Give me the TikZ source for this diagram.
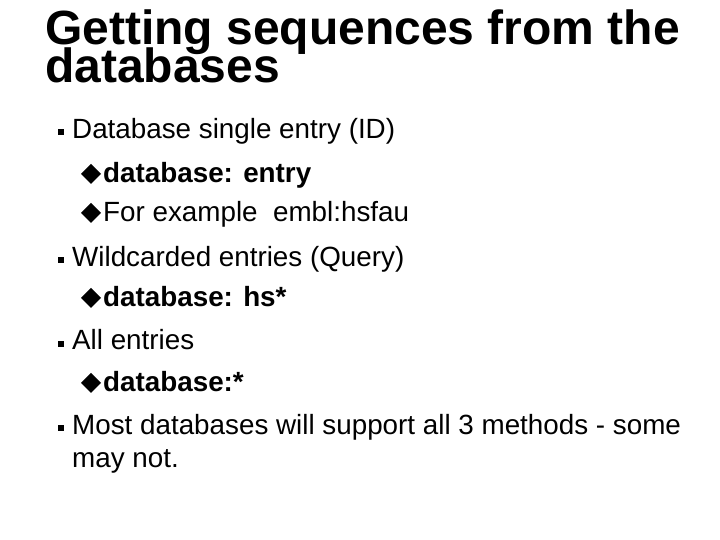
\documentclass[tikz,border=0pt]{standalone}
\usepackage{fontspec}
\setmainfont{Liberation Sans}
\begin{document}
\begin{tikzpicture}[x=1pt,y=1pt,
  t/.style={anchor=base west,inner sep=0pt,font=\fontsize{27.8}{30}\selectfont},
  tb/.style={t,font=\fontsize{27.8}{30}\selectfont\bfseries},
  ttl/.style={anchor=base west,inner sep=0pt,font=\fontsize{48}{48}\selectfont\bfseries}]
\useasboundingbox (0,0) rectangle (720,540);
\newcommand{\sq}[1]{\fill (58,540-#1) rectangle ++(6,6);}
\newcommand{\dm}[1]{\fill (81,540-#1+9) -- ++(10,10) -- ++(10,-10) -- ++(-10,-10) -- cycle;}
\node[ttl] (h1) at (45,540-45) {Getting sequences from the};
\node[ttl] (h2) at (45,540-83) {databases};
\sq{135}\node[t] (a) at (72,540-139) {Database single entry (ID)};
\dm{183}\node[tb] (a1) at (103,540-183) {database: entry};
\dm{222}\node[t] (a2) at (103,540-222) {For example\ \ embl:hsfau};
\sq{263}\node[t] (b) at (72,540-267) {Wildcarded entries (Query)};
\dm{307}\node[tb] (b1) at (103,540-307) {database: hs*};
\sq{347}\node[t] (c) at (72,540-350) {All entries};
\dm{392}\node[tb] (c1) at (103,540-392) {database:*};
\sq{431}\node[t] (d) at (72,540-435) {Most databases will support all 3 methods - some};
\node[t] (d2) at (72,540-468) {may not.};
\end{tikzpicture}
\end{document}
